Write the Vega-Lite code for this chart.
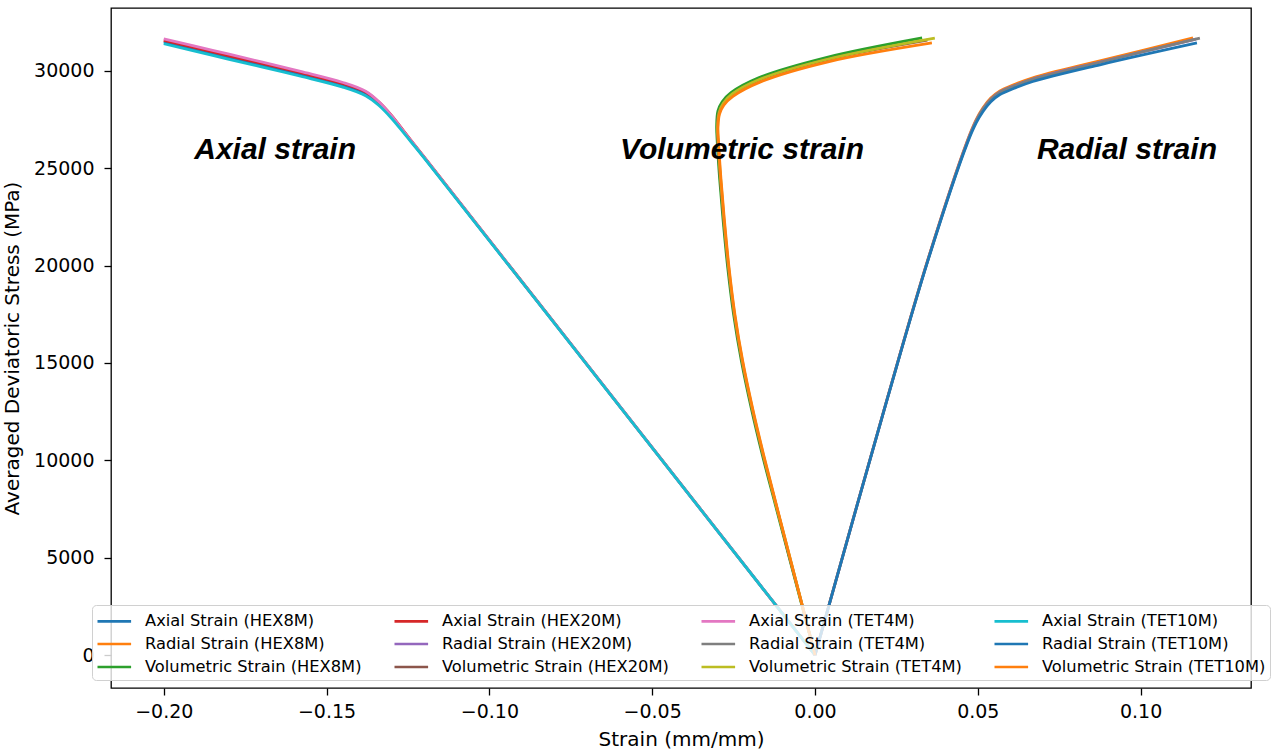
{
  "$schema": "https://vega.github.io/schema/vega-lite/v6.json",
  "width": 1140,
  "height": 680,
  "autosize": {"type": "none"},
  "padding": {"left": 111, "top": 8, "right": 29, "bottom": 64},
  "background": "white",
  "config": {
    "view": {"stroke": "black", "strokeWidth": 1.3},
    "font": "DejaVu Sans",
    "axis": {"grid": false, "domain": false, "tickColor": "black", "tickWidth": 1.3, "tickSize": 7, "labelColor": "black", "labelFont": "DejaVu Sans", "labelFontSize": 19, "titleFont": "DejaVu Sans", "titleFontSize": 20, "titleFontWeight": "normal", "titleColor": "black"}
  },
  "layer": [
    {
      "data": {"values": [
        {"s":"Axial Strain (HEX8M)","x":0,"y":0},{"s":"Axial Strain (HEX8M)","x":-0.06,"y":12780},{"s":"Axial Strain (HEX8M)","x":-0.12,"y":25550},{"s":"Axial Strain (HEX8M)","x":-0.1255,"y":26700},{"s":"Axial Strain (HEX8M)","x":-0.13,"y":27650},{"s":"Axial Strain (HEX8M)","x":-0.134,"y":28350},{"s":"Axial Strain (HEX8M)","x":-0.138,"y":28850},{"s":"Axial Strain (HEX8M)","x":-0.145,"y":29280},{"s":"Axial Strain (HEX8M)","x":-0.158,"y":29840},{"s":"Axial Strain (HEX8M)","x":-0.17,"y":30320},{"s":"Axial Strain (HEX8M)","x":-0.185,"y":30910},{"s":"Axial Strain (HEX8M)","x":-0.2,"y":31500},
        {"s":"Radial Strain (HEX8M)","x":0,"y":0},{"s":"Radial Strain (HEX8M)","x":0.0221,"y":13120},{"s":"Radial Strain (HEX8M)","x":0.0347,"y":20330},{"s":"Radial Strain (HEX8M)","x":0.0467,"y":26380},{"s":"Radial Strain (HEX8M)","x":0.0495,"y":27500},{"s":"Radial Strain (HEX8M)","x":0.0516,"y":28110},{"s":"Radial Strain (HEX8M)","x":0.054,"y":28610},{"s":"Radial Strain (HEX8M)","x":0.0568,"y":28980},{"s":"Radial Strain (HEX8M)","x":0.061,"y":29290},{"s":"Radial Strain (HEX8M)","x":0.0669,"y":29650},{"s":"Radial Strain (HEX8M)","x":0.0875,"y":30520},{"s":"Radial Strain (HEX8M)","x":0.1161,"y":31700},
        {"s":"Volumetric Strain (HEX8M)","x":0,"y":0},{"s":"Volumetric Strain (HEX8M)","x":-0.0041,"y":2600},{"s":"Volumetric Strain (HEX8M)","x":-0.0082,"y":5200},{"s":"Volumetric Strain (HEX8M)","x":-0.0123,"y":7800},{"s":"Volumetric Strain (HEX8M)","x":-0.0162,"y":10300},{"s":"Volumetric Strain (HEX8M)","x":-0.0196,"y":12700},{"s":"Volumetric Strain (HEX8M)","x":-0.0226,"y":15100},{"s":"Volumetric Strain (HEX8M)","x":-0.025,"y":17500},{"s":"Volumetric Strain (HEX8M)","x":-0.0268,"y":19900},{"s":"Volumetric Strain (HEX8M)","x":-0.0282,"y":22300},{"s":"Volumetric Strain (HEX8M)","x":-0.0293,"y":24500},{"s":"Volumetric Strain (HEX8M)","x":-0.03,"y":26300},{"s":"Volumetric Strain (HEX8M)","x":-0.0302,"y":27200},{"s":"Volumetric Strain (HEX8M)","x":-0.0298,"y":27950},{"s":"Volumetric Strain (HEX8M)","x":-0.0285,"y":28420},{"s":"Volumetric Strain (HEX8M)","x":-0.0258,"y":28890},{"s":"Volumetric Strain (HEX8M)","x":-0.0175,"y":29640},{"s":"Volumetric Strain (HEX8M)","x":0.0031,"y":30680},{"s":"Volumetric Strain (HEX8M)","x":0.0329,"y":31700},
        {"s":"Axial Strain (HEX20M)","x":0,"y":0},{"s":"Axial Strain (HEX20M)","x":-0.06,"y":12790},{"s":"Axial Strain (HEX20M)","x":-0.12,"y":25570},{"s":"Axial Strain (HEX20M)","x":-0.1255,"y":26740},{"s":"Axial Strain (HEX20M)","x":-0.13,"y":27710},{"s":"Axial Strain (HEX20M)","x":-0.134,"y":28420},{"s":"Axial Strain (HEX20M)","x":-0.138,"y":28920},{"s":"Axial Strain (HEX20M)","x":-0.145,"y":29350},{"s":"Axial Strain (HEX20M)","x":-0.158,"y":29910},{"s":"Axial Strain (HEX20M)","x":-0.17,"y":30390},{"s":"Axial Strain (HEX20M)","x":-0.185,"y":30980},{"s":"Axial Strain (HEX20M)","x":-0.2,"y":31570},
        {"s":"Radial Strain (HEX20M)","x":0,"y":0},{"s":"Radial Strain (HEX20M)","x":0.0221,"y":13110},{"s":"Radial Strain (HEX20M)","x":0.0347,"y":20310},{"s":"Radial Strain (HEX20M)","x":0.0467,"y":26340},{"s":"Radial Strain (HEX20M)","x":0.0495,"y":27450},{"s":"Radial Strain (HEX20M)","x":0.0516,"y":28050},{"s":"Radial Strain (HEX20M)","x":0.054,"y":28550},{"s":"Radial Strain (HEX20M)","x":0.0568,"y":28920},{"s":"Radial Strain (HEX20M)","x":0.061,"y":29230},{"s":"Radial Strain (HEX20M)","x":0.0669,"y":29590},{"s":"Radial Strain (HEX20M)","x":0.0875,"y":30460},{"s":"Radial Strain (HEX20M)","x":0.117,"y":31640},
        {"s":"Volumetric Strain (HEX20M)","x":0,"y":0},{"s":"Volumetric Strain (HEX20M)","x":-0.0040,"y":2600},{"s":"Volumetric Strain (HEX20M)","x":-0.0081,"y":5200},{"s":"Volumetric Strain (HEX20M)","x":-0.0121,"y":7800},{"s":"Volumetric Strain (HEX20M)","x":-0.016,"y":10300},{"s":"Volumetric Strain (HEX20M)","x":-0.0194,"y":12700},{"s":"Volumetric Strain (HEX20M)","x":-0.0224,"y":15100},{"s":"Volumetric Strain (HEX20M)","x":-0.0248,"y":17500},{"s":"Volumetric Strain (HEX20M)","x":-0.0266,"y":19900},{"s":"Volumetric Strain (HEX20M)","x":-0.028,"y":22300},{"s":"Volumetric Strain (HEX20M)","x":-0.0291,"y":24500},{"s":"Volumetric Strain (HEX20M)","x":-0.0298,"y":26300},{"s":"Volumetric Strain (HEX20M)","x":-0.03,"y":27150},{"s":"Volumetric Strain (HEX20M)","x":-0.0295,"y":27870},{"s":"Volumetric Strain (HEX20M)","x":-0.0282,"y":28330},{"s":"Volumetric Strain (HEX20M)","x":-0.0255,"y":28800},{"s":"Volumetric Strain (HEX20M)","x":-0.0172,"y":29540},{"s":"Volumetric Strain (HEX20M)","x":0.0034,"y":30570},{"s":"Volumetric Strain (HEX20M)","x":0.0345,"y":31580},
        {"s":"Axial Strain (TET4M)","x":0,"y":0},{"s":"Axial Strain (TET4M)","x":-0.06,"y":12785},{"s":"Axial Strain (TET4M)","x":-0.12,"y":25560},{"s":"Axial Strain (TET4M)","x":-0.1255,"y":26720},{"s":"Axial Strain (TET4M)","x":-0.13,"y":27690},{"s":"Axial Strain (TET4M)","x":-0.134,"y":28430},{"s":"Axial Strain (TET4M)","x":-0.138,"y":28960},{"s":"Axial Strain (TET4M)","x":-0.145,"y":29410},{"s":"Axial Strain (TET4M)","x":-0.158,"y":29980},{"s":"Axial Strain (TET4M)","x":-0.17,"y":30470},{"s":"Axial Strain (TET4M)","x":-0.185,"y":31060},{"s":"Axial Strain (TET4M)","x":-0.2,"y":31650},
        {"s":"Radial Strain (TET4M)","x":0,"y":0},{"s":"Radial Strain (TET4M)","x":0.0221,"y":13105},{"s":"Radial Strain (TET4M)","x":0.0347,"y":20300},{"s":"Radial Strain (TET4M)","x":0.0467,"y":26320},{"s":"Radial Strain (TET4M)","x":0.0495,"y":27430},{"s":"Radial Strain (TET4M)","x":0.0516,"y":28040},{"s":"Radial Strain (TET4M)","x":0.054,"y":28540},{"s":"Radial Strain (TET4M)","x":0.0568,"y":28910},{"s":"Radial Strain (TET4M)","x":0.061,"y":29220},{"s":"Radial Strain (TET4M)","x":0.0669,"y":29580},{"s":"Radial Strain (TET4M)","x":0.0875,"y":30450},{"s":"Radial Strain (TET4M)","x":0.1182,"y":31690},
        {"s":"Volumetric Strain (TET4M)","x":0,"y":0},{"s":"Volumetric Strain (TET4M)","x":-0.004,"y":2600},{"s":"Volumetric Strain (TET4M)","x":-0.008,"y":5200},{"s":"Volumetric Strain (TET4M)","x":-0.0121,"y":7800},{"s":"Volumetric Strain (TET4M)","x":-0.0159,"y":10300},{"s":"Volumetric Strain (TET4M)","x":-0.0193,"y":12700},{"s":"Volumetric Strain (TET4M)","x":-0.0223,"y":15100},{"s":"Volumetric Strain (TET4M)","x":-0.0247,"y":17500},{"s":"Volumetric Strain (TET4M)","x":-0.0265,"y":19900},{"s":"Volumetric Strain (TET4M)","x":-0.0279,"y":22300},{"s":"Volumetric Strain (TET4M)","x":-0.029,"y":24500},{"s":"Volumetric Strain (TET4M)","x":-0.0297,"y":26300},{"s":"Volumetric Strain (TET4M)","x":-0.0299,"y":27150},{"s":"Volumetric Strain (TET4M)","x":-0.0294,"y":27880},{"s":"Volumetric Strain (TET4M)","x":-0.0281,"y":28350},{"s":"Volumetric Strain (TET4M)","x":-0.0254,"y":28820},{"s":"Volumetric Strain (TET4M)","x":-0.0171,"y":29560},{"s":"Volumetric Strain (TET4M)","x":0.0035,"y":30590},{"s":"Volumetric Strain (TET4M)","x":0.0368,"y":31690},
        {"s":"Axial Strain (TET10M)","x":0,"y":0},{"s":"Axial Strain (TET10M)","x":-0.06,"y":12770},{"s":"Axial Strain (TET10M)","x":-0.12,"y":25530},{"s":"Axial Strain (TET10M)","x":-0.1255,"y":26650},{"s":"Axial Strain (TET10M)","x":-0.13,"y":27560},{"s":"Axial Strain (TET10M)","x":-0.134,"y":28240},{"s":"Axial Strain (TET10M)","x":-0.138,"y":28730},{"s":"Axial Strain (TET10M)","x":-0.145,"y":29170},{"s":"Axial Strain (TET10M)","x":-0.158,"y":29730},{"s":"Axial Strain (TET10M)","x":-0.17,"y":30210},{"s":"Axial Strain (TET10M)","x":-0.185,"y":30800},{"s":"Axial Strain (TET10M)","x":-0.2,"y":31400},
        {"s":"Radial Strain (TET10M)","x":0,"y":0},{"s":"Radial Strain (TET10M)","x":0.0221,"y":13090},{"s":"Radial Strain (TET10M)","x":0.0347,"y":20270},{"s":"Radial Strain (TET10M)","x":0.0467,"y":26250},{"s":"Radial Strain (TET10M)","x":0.0495,"y":27330},{"s":"Radial Strain (TET10M)","x":0.0516,"y":27920},{"s":"Radial Strain (TET10M)","x":0.054,"y":28420},{"s":"Radial Strain (TET10M)","x":0.0568,"y":28790},{"s":"Radial Strain (TET10M)","x":0.061,"y":29100},{"s":"Radial Strain (TET10M)","x":0.0669,"y":29460},{"s":"Radial Strain (TET10M)","x":0.0875,"y":30320},{"s":"Radial Strain (TET10M)","x":0.1173,"y":31440},
        {"s":"Volumetric Strain (TET10M)","x":0,"y":0},{"s":"Volumetric Strain (TET10M)","x":-0.004,"y":2600},{"s":"Volumetric Strain (TET10M)","x":-0.008,"y":5200},{"s":"Volumetric Strain (TET10M)","x":-0.012,"y":7800},{"s":"Volumetric Strain (TET10M)","x":-0.0158,"y":10300},{"s":"Volumetric Strain (TET10M)","x":-0.0192,"y":12700},{"s":"Volumetric Strain (TET10M)","x":-0.0222,"y":15100},{"s":"Volumetric Strain (TET10M)","x":-0.0246,"y":17500},{"s":"Volumetric Strain (TET10M)","x":-0.0264,"y":19900},{"s":"Volumetric Strain (TET10M)","x":-0.0278,"y":22300},{"s":"Volumetric Strain (TET10M)","x":-0.0289,"y":24500},{"s":"Volumetric Strain (TET10M)","x":-0.0296,"y":26300},{"s":"Volumetric Strain (TET10M)","x":-0.0298,"y":27100},{"s":"Volumetric Strain (TET10M)","x":-0.0293,"y":27800},{"s":"Volumetric Strain (TET10M)","x":-0.028,"y":28250},{"s":"Volumetric Strain (TET10M)","x":-0.0252,"y":28700},{"s":"Volumetric Strain (TET10M)","x":-0.0169,"y":29430},{"s":"Volumetric Strain (TET10M)","x":0.0037,"y":30460},{"s":"Volumetric Strain (TET10M)","x":0.0359,"y":31440}
      ]},
      "mark": {"type": "line", "strokeWidth": 2.8, "interpolate": "catmull-rom"},
      "encoding": {
        "x": {"field": "x", "type": "quantitative", "scale": {"domain": [-0.2162, 0.1339], "nice": false, "zero": false},
              "axis": {"values": [-0.2, -0.15, -0.1, -0.05, 0, 0.05, 0.1], "format": ".2f", "title": "Strain (mm/mm)", "labelPadding": 7, "titlePadding": 8}},
        "y": {"field": "y", "type": "quantitative", "scale": {"domain": [-1695, 33236], "nice": false, "zero": false},
              "axis": {"values": [0, 5000, 10000, 15000, 20000, 25000, 30000], "format": "d", "title": "Averaged Deviatoric Stress (MPa)", "labelPadding": 10, "titlePadding": 11}},
        "color": {"field": "s", "type": "nominal",
          "scale": {
            "domain": ["Axial Strain (HEX8M)", "Axial Strain (HEX20M)", "Axial Strain (TET4M)", "Axial Strain (TET10M)", "Radial Strain (HEX8M)", "Radial Strain (HEX20M)", "Radial Strain (TET4M)", "Radial Strain (TET10M)", "Volumetric Strain (HEX8M)", "Volumetric Strain (HEX20M)", "Volumetric Strain (TET4M)", "Volumetric Strain (TET10M)"],
            "range": ["#1f77b4", "#d62728", "#e377c2", "#17becf", "#ff7f0e", "#9467bd", "#7f7f7f", "#1f77b4", "#2ca02c", "#8c564b", "#bcbd22", "#ff7f0e"]
          },
          "legend": {"title": null, "orient": "none", "legendX": -19, "legendY": 597, "direction": "horizontal", "columns": 4,
            "symbolType": "M-1,0H2.2", "symbolSize": 441, "symbolStrokeWidth": 2.6,
            "labelFont": "DejaVu Sans", "labelFontSize": 16.3, "labelColor": "black", "labelOffset": 25, "labelLimit": 500,
            "columnPadding": 27, "rowPadding": 2, "padding": 4,
            "fillColor": "rgba(255,255,255,0.8)", "strokeColor": "#d0d0d0", "cornerRadius": 4}
        },
        "order": {"field": "y"}
      }
    },
    {
      "data": {"values": [
        {"x": -0.1658, "y": 25940, "t": "Axial strain"},
        {"x": -0.0224, "y": 25940, "t": "Volumetric strain"},
        {"x": 0.0958, "y": 25940, "t": "Radial strain"}
      ]},
      "mark": {"type": "text", "font": "Liberation Sans", "fontSize": 30, "fontWeight": "bold", "fontStyle": "italic", "color": "black", "align": "center", "baseline": "middle"},
      "encoding": {
        "x": {"field": "x", "type": "quantitative"},
        "y": {"field": "y", "type": "quantitative"},
        "text": {"field": "t"}
      }
    }
  ]
}
